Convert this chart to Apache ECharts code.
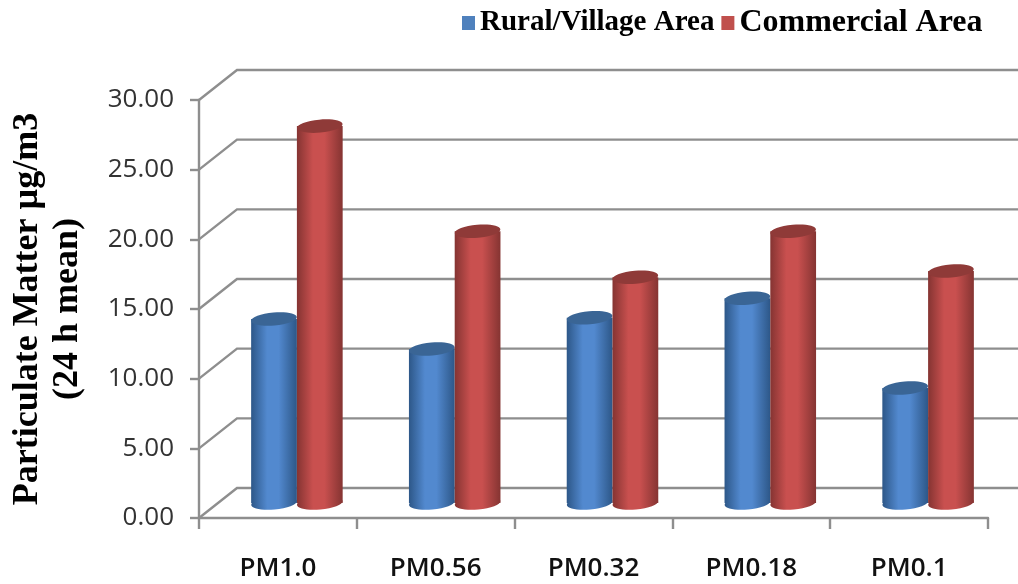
<!DOCTYPE html>
<html>
<head>
<meta charset="utf-8">
<style>html,body{margin:0;padding:0;background:#fff}#c{width:1018px;height:584px}</style>
<script src="https://cdn.jsdelivr.net/npm/echarts@6/dist/echarts.min.js"></script>
</head>
<body>
<div id="c"></div>
<script>
const categories = ['PM1.0', 'PM0.56', 'PM0.32', 'PM0.18', 'PM0.1'];
const ruralValues = [13.2, 11.05, 13.3, 14.7, 8.25];
const commercialValues = [27.05, 19.5, 16.2, 19.5, 16.65];
const yTicks = [0, 5, 10, 15, 20, 25, 30];
const ruralName = 'Rural/Village Area';
const commercialName = 'Commercial Area';
const yTitle = 'Particulate Matter \u00b5g/m3\n(24 h mean)';

const DEPTH_X = 38, DEPTH_Y = -30;
const GRID_COLOR = '#8e8e8e';

function wallItem(params, api) {
  const v = api.value(0);
  const cs = params.coordSys;
  const p = api.coord([0, v]);
  const x0 = cs.x, y0 = p[1];
  const lineStyle = { stroke: GRID_COLOR, lineWidth: 2.4, fill: null };
  return {
    type: 'polyline',
    shape: { points: [[x0, y0], [x0 + DEPTH_X, y0 + DEPTH_Y], [cs.x + cs.width + DEPTH_X, y0 + DEPTH_Y]] },
    style: lineStyle,
    silent: true
  };
}

function cylinder(side, edge, mid, top) {
  return function (params, api) {
    const idx = api.value(0), val = api.value(1);
    const band = api.size([1, 0])[0];
    const w = band * 0.29;
    const base = api.coord([idx, 0]);
    const head = api.coord([idx, val]);
    const cx = base[0] + DEPTH_X / 2 + side * w / 2;
    const yb = base[1] + DEPTH_Y / 2;
    const yt = head[1] + DEPTH_Y / 2;
    const grad = {
      type: 'linear', x: 0, y: 0, x2: 1, y2: 0,
      colorStops: [
        { offset: 0, color: edge },
        { offset: 0.35, color: mid },
        { offset: 0.6, color: mid },
        { offset: 1, color: edge }
      ]
    };
    const tilt = 5 * Math.PI / 180;
    return {
      type: 'group',
      children: [
        { type: 'ellipse', shape: { cx: cx, cy: yb, rx: w / 2, ry: 6.5 }, rotation: tilt, originX: cx, originY: yb, style: { fill: grad } },
        { type: 'rect', shape: { x: cx - w / 2, y: yt, width: w, height: yb - yt }, style: { fill: grad } },
        { type: 'ellipse', shape: { cx: cx, cy: yt, rx: w / 2, ry: 6.5 }, rotation: tilt, originX: cx, originY: yt, style: { fill: top } }
      ]
    };
  };
}

const chart = echarts.init(document.getElementById('c'), null, { renderer: 'canvas' });
const legendText = { fontFamily: 'Liberation Serif', fontWeight: 'bold', color: '#000', padding: 0 };
chart.setOption({
  animation: false,
  backgroundColor: '#ffffff',
  grid: { left: 199, right: 30, top: 100, bottom: 66, outerBoundsMode: 'none' },
  legend: {
    data: [
      { name: ruralName, textStyle: Object.assign({ fontSize: 29 }, legendText) },
      { name: commercialName, textStyle: Object.assign({ fontSize: 32 }, legendText) }
    ],
    left: 457, top: 2,
    itemWidth: 13, itemHeight: 14, itemGap: 7,
    icon: 'rect'
  },
  xAxis: {
    type: 'category',
    data: categories,
    axisLine: { show: true, lineStyle: { color: GRID_COLOR, width: 2.4 } },
    axisTick: { show: true, alignWithLabel: false, length: 11, lineStyle: { color: GRID_COLOR, width: 2.4 } },
    axisLabel: { fontFamily: 'Open Sans', fontWeight: 600, fontSize: 26, color: '#111', margin: 38 },
    splitLine: { show: false }
  },
  yAxis: {
    type: 'value',
    min: 0, max: 30, interval: 5,
    name: yTitle,
    nameLocation: 'middle',
    nameGap: 111,
    nameRotate: 90,
    nameTextStyle: { fontFamily: 'Liberation Serif', fontWeight: 'bold', fontSize: 36, color: '#000', lineHeight: 40 },
    axisLine: { show: true, lineStyle: { color: GRID_COLOR, width: 2.4 } },
    axisTick: { show: true, length: 9, lineStyle: { color: GRID_COLOR, width: 2.4 } },
    axisLabel: { fontFamily: 'Open Sans', fontSize: 26, color: '#333', margin: 25, formatter: v => v.toFixed(2) },
    splitLine: { show: false }
  },
  series: [
    { type: 'custom', name: 'wall', z: 1, clip: false, silent: true,
      coordinateSystem: 'cartesian2d', encode: { y: 0 }, data: yTicks.map(v => [v]), renderItem: wallItem },
    { type: 'custom', name: ruralName, z: 3, clip: false,
      itemStyle: { color: '#4f81bd' }, encode: { x: 0, y: 1 },
      data: ruralValues.map((v, i) => [i, v]),
      renderItem: cylinder(-1, '#2d5788', '#5289cf', '#3a6595') },
    { type: 'custom', name: commercialName, z: 4, clip: false,
      itemStyle: { color: '#c0504d' }, encode: { x: 0, y: 1 },
      data: commercialValues.map((v, i) => [i, v]),
      renderItem: cylinder(1, '#853432', '#c9504f', '#8f3a38') }
  ]
});
</script>
</body>
</html>
